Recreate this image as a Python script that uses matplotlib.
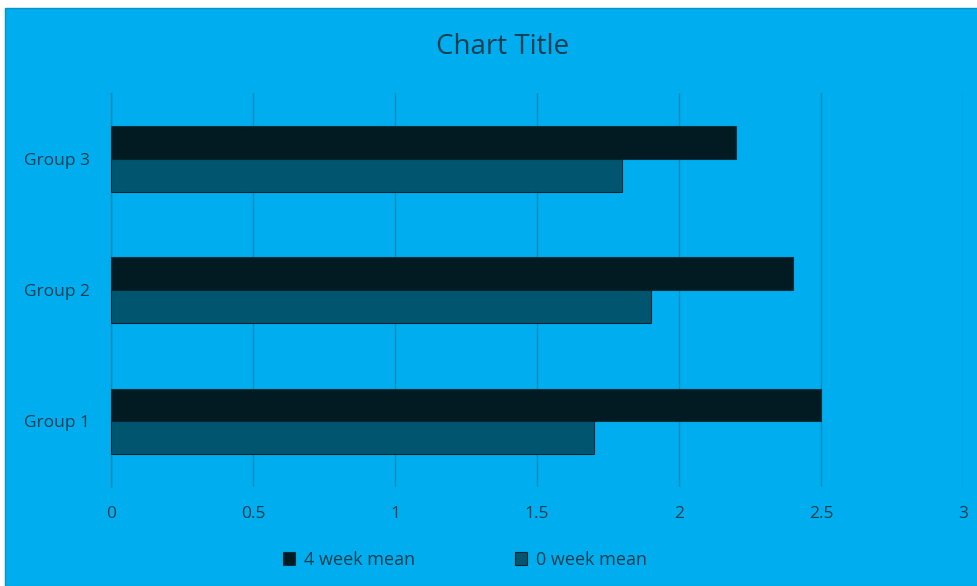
import numpy as np
import matplotlib.pyplot as plt
from matplotlib.patches import Rectangle

# Data
groups = ["Group 1", "Group 2", "Group 3"]
week4_mean = [2.5, 2.4, 2.2]
week0_mean = [1.7, 1.9, 1.8]
x_ticks = [0, 0.5, 1, 1.5, 2, 2.5, 3]
x_tick_labels = ["0", "0.5", "1", "1.5", "2", "2.5", "3"]

bg = "#00AEEF"
text_col = "#0D3F52"
grid_col = "#0A8CBF"

plt.rcParams['font.family'] = ['Open Sans', 'DejaVu Sans']

W, H = 978, 586
fig = plt.figure(figsize=(W / 100, H / 100), dpi=100, facecolor="white")

# Blue chart area with a thin white margin on the top and left
fig.patches.append(Rectangle((5 / W, 0), 1 - 5 / W, 1 - 8 / H, transform=fig.transFigure,
                             facecolor=bg, edgecolor="#0A93C8", linewidth=1.0, zorder=-1))

ax = fig.add_axes([111 / W, 1 - 487 / H, (963 - 111) / W, (487 - 93) / H])
ax.set_facecolor("none")

y = np.arange(len(groups))
h = 0.25
ax.barh(y + h / 2, week4_mean, height=h, color="#021B22", edgecolor="#01313F",
        linewidth=0.8, label="4 week mean", zorder=3)
ax.barh(y - h / 2, week0_mean, height=h, color="#02556F", edgecolor="#01242E",
        linewidth=0.8, label="0 week mean", zorder=3)

ax.set_xlim(0, 3)
ax.set_ylim(-0.5, 2.5)
ax.set_xticks(x_ticks)
ax.set_xticklabels(x_tick_labels)
ax.set_yticks(y)
ax.set_yticklabels(groups)
ax.tick_params(axis="both", length=0, colors=text_col, labelsize=12.5)
ax.tick_params(axis="x", pad=14)
ax.tick_params(axis="y", pad=15)

ax.grid(axis="x", color=grid_col, linewidth=1.0, zorder=1)
for s in ["top", "right", "bottom"]:
    ax.spines[s].set_visible(False)
ax.spines["left"].set_color(grid_col)
ax.spines["left"].set_linewidth(1.0)

fig.text(503 / W, 1 - 47 / H, "Chart Title", ha="center", va="center",
         fontsize=20, color=text_col)

leg = fig.legend(loc="center", bbox_to_anchor=(465 / W, 1 - 560 / H), ncol=2,
                 frameon=False, fontsize=13, handlelength=0.7, handleheight=0.7,
                 handletextpad=0.5, columnspacing=5.5)
for t in leg.get_texts():
    t.set_color(text_col)

fig.savefig("out.png", dpi=100, facecolor=fig.get_facecolor())
